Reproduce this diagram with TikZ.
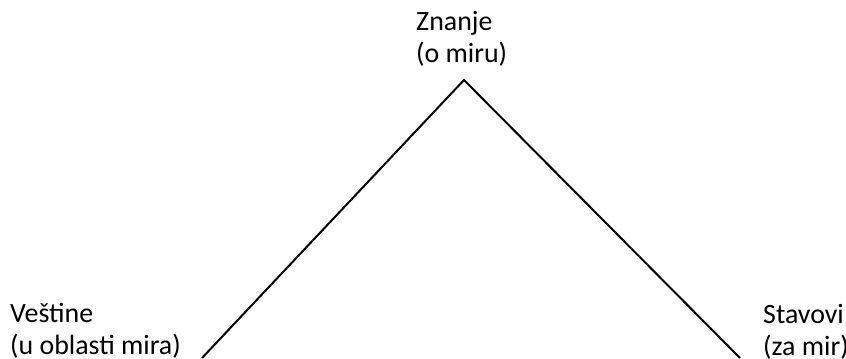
\documentclass[tikz,border=0pt]{standalone}
\usepackage{fontspec}
\setmainfont{Carlito}
\usetikzlibrary{positioning}

\begin{document}
\begin{tikzpicture}[
      x=1bp, y=1bp,
      label/.style={inner sep=0pt, align=left, anchor=base west, font=\fontsize{28}{32}\selectfont},
      edge/.style={line width=2bp, black, line join=miter}
    ]
      \useasboundingbox (0,0) rectangle (846,358);
      \node[label] (znanje) at (416,296) {Znanje\\(o miru)};
      \node[label] (vestine) at (10,4) {Veštine\\(u oblasti mira)};
      \node[label] (stavovi) at (763,3) {Stavovi\\(za mir)};

      \coordinate (vrh) at (464,278);
      \coordinate (levo) at (202,0);
      \coordinate (desno) at (740,0);

      \draw[edge] (levo) -- (vrh) -- (desno);
    \end{tikzpicture}
\end{document}
